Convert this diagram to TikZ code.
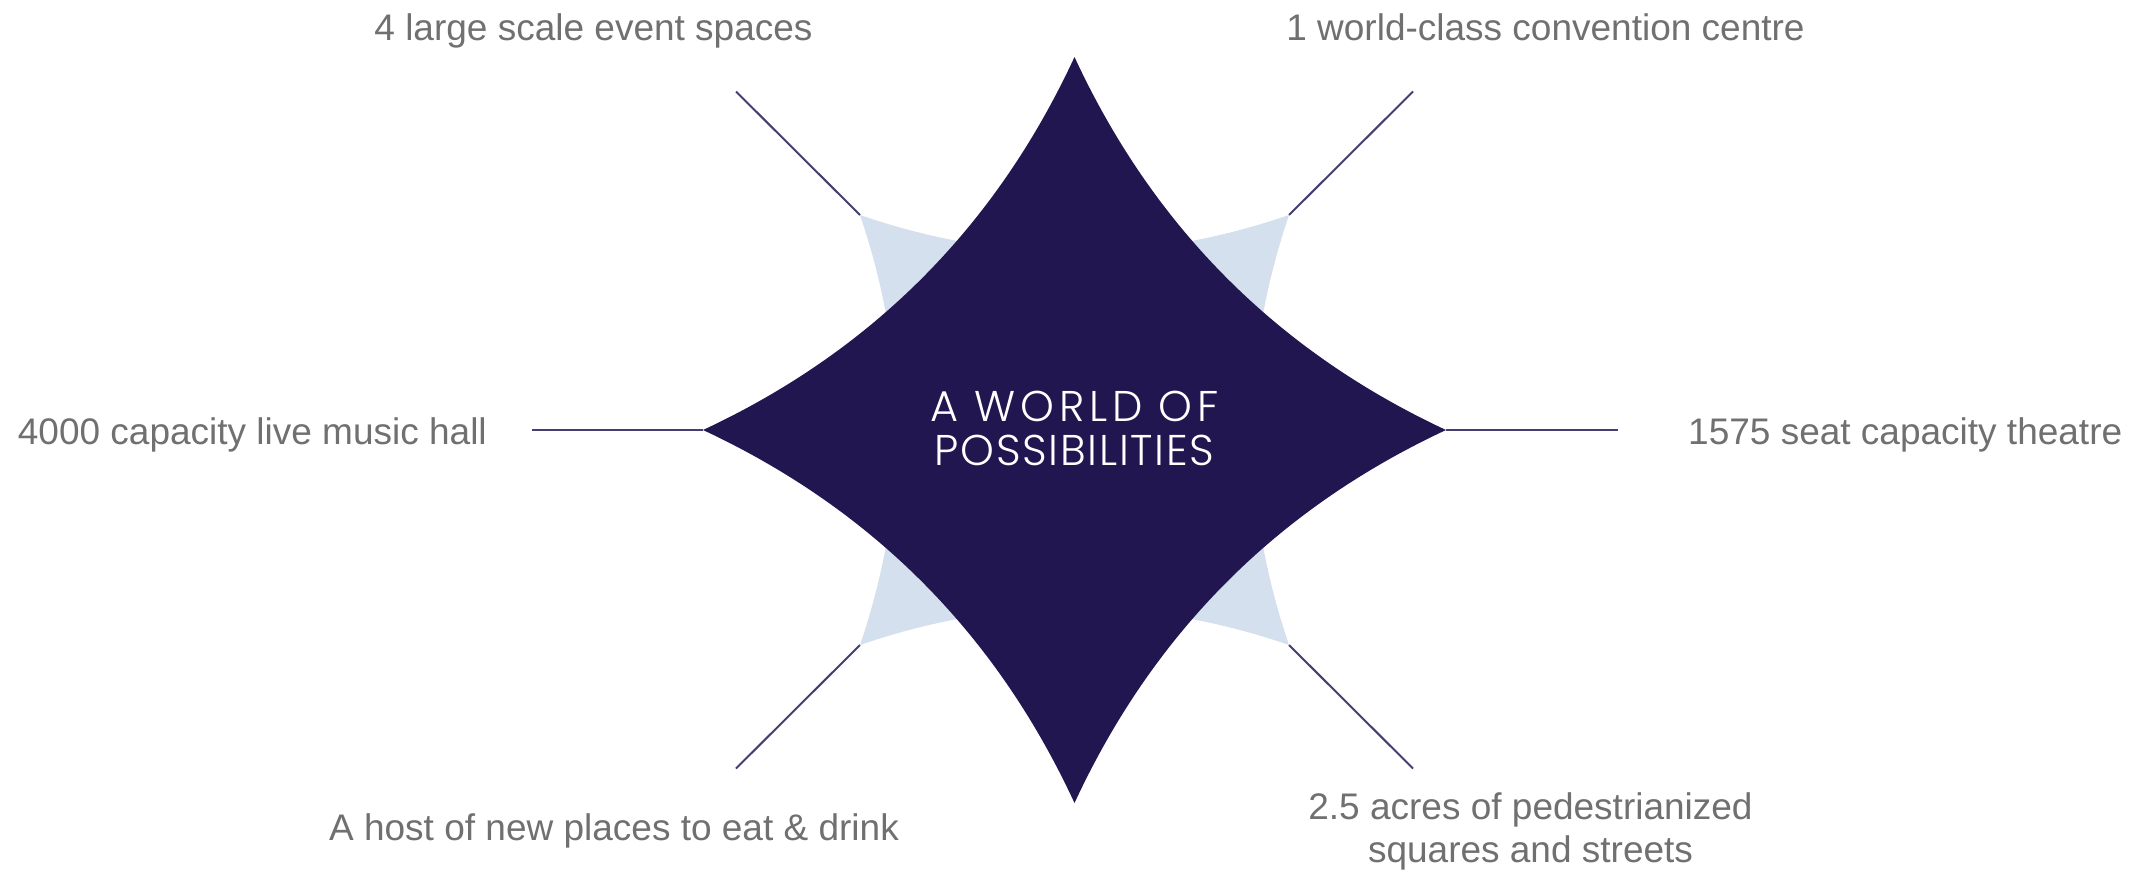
\documentclass[tikz,border=0pt]{standalone}
\usepackage{fontspec}
\setmainfont{Liberation Sans}
\newfontfamily\starfont{Poppins Light}
\newfontfamily\starfontwide{Poppins Light}[LetterSpace=11]
\newfontfamily\starfontnarrow{Poppins Light}[LetterSpace=4]
\definecolor{starnavy}{RGB}{33,22,80}
\definecolor{sailblue}{RGB}{212,224,238}
\definecolor{linknavy}{RGB}{70,62,112}
\definecolor{labelgray}{RGB}{112,112,112}
\begin{document}
\begin{tikzpicture}[x=1pt,y=-1pt,
  lbl/.style={inner sep=0pt, text=labelgray, font=\fontsize{37}{44}\selectfont, anchor=base},
  link/.style={draw=linknavy, line width=2pt},
  title/.style={inner sep=0pt, text=white, anchor=base}]
\useasboundingbox (0,0) rectangle (2141,871);
\fill[white] (0,0) rectangle (2141,871);
% tips of the light star
\coordinate (sUL) at (860,215);
\coordinate (sUR) at (1289,215);
\coordinate (sLL) at (860,645);
\coordinate (sLR) at (1289,645);
% tips of the dark star
\coordinate (tT) at (1074.5,57);
\coordinate (tR) at (1446,430);
\coordinate (tB) at (1074.5,803);
\coordinate (tL) at (703,430);
% free ends of the connectors
\coordinate (eUL) at (736,91.5);
\coordinate (eUR) at (1413,91.5);
\coordinate (eLL) at (736,768.5);
\coordinate (eLR) at (1413,768.5);
\coordinate (eL) at (532,430);
\coordinate (eR) at (1618,430);
% light star
\fill[sailblue] (sUL) .. controls (1002.8,264.3) and (1146.2,264.3) .. (sUR)
  .. controls (1240.2,358.3) and (1240.2,501.7) .. (sLR)
  .. controls (1146.2,595.7) and (1002.8,595.7) .. (sLL)
  .. controls (908.8,501.7) and (908.8,358.3) .. (sUL) -- cycle;
% connectors
\draw[link] (sUL) -- (eUL);
\draw[link] (sUR) -- (eUR);
\draw[link] (sLL) -- (eLL);
\draw[link] (sLR) -- (eLR);
\draw[link] (tL) -- (eL);
\draw[link] (tR) -- (eR);
% dark star
\fill[starnavy] (tT) .. controls (1153.2,227) and (1277.2,351.3) .. (tR)
  .. controls (1277.2,508.7) and (1153.2,633) .. (tB)
  .. controls (995.8,633) and (871.8,508.7) .. (tL)
  .. controls (871.8,351.3) and (995.8,227) .. (tT) -- cycle;
% title
\node[title, font=\starfontwide\fontsize{43}{45}\selectfont] (title1) at (1074.5,421) {A WORLD OF};
\node[title, font=\starfontnarrow\fontsize{43}{45}\selectfont] (title2) at (1074.5,465) {POSSIBILITIES};
% labels
\node[lbl] (l1) at (593.5,40) {4 large scale event spaces};
\node[lbl] (l2) at (1545.5,40) {1 world-class convention centre};
\node[lbl, anchor=base east] (l3) at (487,444) {4000 capacity live music hall};
\node[lbl, anchor=base west] (l4) at (1688,444) {1575 seat capacity theatre};
\node[lbl] (l5) at (614,840) {A host of new places to eat \& drink};
\node[lbl] (l6) at (1530.5,819) {2.5 acres of pedestrianized};
\node[lbl] (l7) at (1530.5,862) {squares and streets};
\end{tikzpicture}
\end{document}
